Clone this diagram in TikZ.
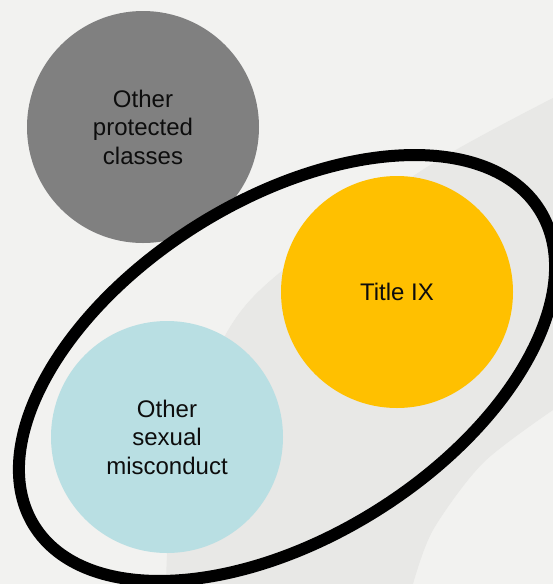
\documentclass[tikz,border=0pt]{standalone}
\usepackage{fontspec}
\setmainfont{Liberation Sans}
\usetikzlibrary{positioning,calc}

\definecolor{bggray}{HTML}{F2F2F0}
\definecolor{swooshgray}{HTML}{E8E8E6}
\definecolor{classgray}{HTML}{808080}
\definecolor{titlegold}{HTML}{FFC000}
\definecolor{misconductblue}{HTML}{B9DFE3}
\definecolor{labelblack}{HTML}{0D0D0D}

\tikzset{
  bubble/.style={circle, minimum size=232pt, inner sep=0pt, align=center,
    text=labelblack, font=\fontsize{24}{28.5}\selectfont},
  scope_line/.style={draw=black, line width=12pt}
}

\begin{document}
\begin{tikzpicture}[x=1pt, y=-1pt]
          % background
          \useasboundingbox (0,0) rectangle (553,584);
          \fill[bggray] (0,0) rectangle (553,584);
          \fill[swooshgray] plot[smooth] coordinates {(553,98) (427,167) (283,270) (230,327) (190,420) (170,520) (166,584)}
             -- (413,584) -- plot[smooth] coordinates {(413,584) (433,530) (483,463) (553,410)} -- cycle;

          % nodes
          \node[bubble, fill=classgray] (other_classes) at (143,127) {Other\\protected\\classes};

          % scope ellipse
          \coordinate (scope_center) at (287,368);
          \draw[scope_line, rotate around={32:(scope_center)}] (scope_center) ellipse (298 and 168.5);

          \node[bubble, fill=titlegold] (title_ix) at (397,292) {Title IX};

          \node[bubble, fill=misconductblue] (other_misconduct) at (167,437) {Other\\sexual\\misconduct};

\end{tikzpicture}
\end{document}
